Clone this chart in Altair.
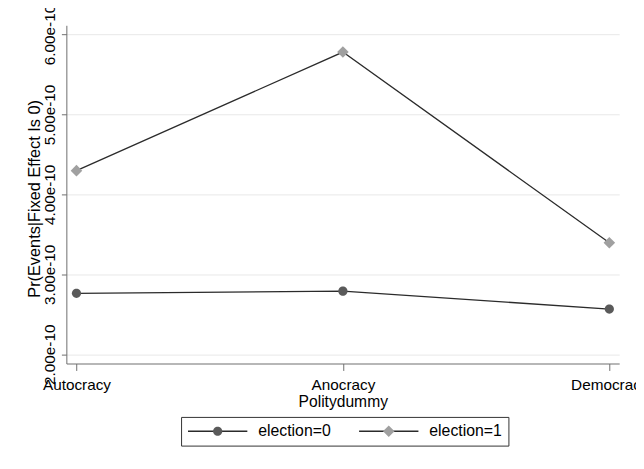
import altair as alt
import pandas as pd

# ---- data ----
categories = ["Autocracy", "Anocracy", "Democracy"]
series_names = ["election=0", "election=1"]
election0 = [2.763e-10, 2.790e-10, 2.566e-10]
election1 = [4.297e-10, 5.780e-10, 3.396e-10]
y_ticks = [2e-10, 3e-10, 4e-10, 5e-10, 6e-10]

rows = []
for i, c in enumerate(categories):
    rows.append({"xi": i, "cat": c, "value": election0[i], "series": series_names[0], "lseries": series_names[0]})
    rows.append({"xi": i, "cat": c, "value": election1[i], "series": series_names[1], "lseries": series_names[1]})
df = pd.DataFrame(rows)

FONT = "Liberation Sans"
circle_path = "M -0.155 0 A 0.155 0.155 0 1 0 0.155 0 A 0.155 0.155 0 1 0 -0.155 0 Z"
diamond_path = "M 0 -0.195 L 0.195 0 L 0 0.195 L -0.195 0 Z"

label_expr = "[" + ",".join("'" + c + "'" for c in categories) + "][datum.value]"

x_enc = alt.X(
    "xi:Q",
    scale=alt.Scale(domain=[-0.038, 2.037], nice=False, zero=False),
    axis=alt.Axis(
        values=[0, 1, 2], labelExpr=label_expr, title="Politydummy",
        grid=False, tickSize=7, tickColor="#6e6e6e", domainColor="#6e6e6e",
        labelFlush=False, labelOverlap=False, labelBaseline="alphabetic",
        labelPadding=19, labelFontSize=15.5, labelFont=FONT, labelColor="black",
        titleFontSize=15.8, titleFont=FONT, titleFontWeight="normal", titleColor="black",
        titleX=279.5, titleY=43, titleBaseline="alphabetic", titleAlign="center",
    ),
)
y_enc = alt.Y(
    "value:Q",
    scale=alt.Scale(domain=[1.885e-10, 6.115e-10], nice=False, zero=False),
    axis=alt.Axis(
        values=y_ticks, format=".2e", title="Pr(Events|Fixed Effect Is 0)",
        grid=True, gridColor="#e8e8e8", gridWidth=1,
        tickSize=5, tickColor="#6e6e6e", domainColor="#6e6e6e",
        labelAngle=270, labelAlign="center", labelBaseline="alphabetic",
        labelPadding=7, labelFlush=False, labelOverlap=False,
        labelFontSize=15.5, labelFont=FONT, labelColor="black",
        titleFontSize=16.5, titleFont=FONT, titleFontWeight="normal", titleColor="black",
        titleAngle=270, titleX=-27, titleY=175, titleBaseline="alphabetic", titleAlign="center",
    ),
)

common_legend = dict(
    title=None, orient="none", legendX=116, legendY=396, direction="horizontal",
    symbolSize=3600, clipHeight=17, padding=6, labelOffset=10, columnPadding=27,
    labelFontSize=16, labelFont=FONT, labelColor="black", labelLimit=0,
)

lines = alt.Chart(df).mark_line(strokeWidth=1.3).encode(
    x=x_enc, y=y_enc,
    stroke=alt.Stroke(
        "lseries:N",
        scale=alt.Scale(domain=series_names, range=["#2b2b2b", "#2b2b2b"]),
        legend=alt.Legend(symbolType="stroke", symbolStrokeWidth=1.3,
                          strokeColor="#333333", **common_legend),
    ),
)

legend_b = alt.Legend(labelOpacity=0, symbolStrokeWidth=1.3,
                      symbolStrokeColor="transparent", **common_legend)
points = alt.Chart(df).mark_point(filled=True, size=3600, opacity=1).encode(
    x=x_enc, y=y_enc,
    fill=alt.Fill("series:N", scale=alt.Scale(range=["#5a5a5a", "#a0a0a0"]), legend=legend_b),
    shape=alt.Shape("series:N", scale=alt.Scale(range=[circle_path, diamond_path]), legend=legend_b),
)

chart = (
    alt.layer(lines, points)
    .properties(
        width=559, height=342,
        autosize=alt.AutoSizeParams(type="none"),
        padding={"left": 59, "top": 15, "right": 17, "bottom": 88},
        background="white",
    )
    .configure_view(stroke=None)
)

chart.save("out.html", embed_options={"renderer": "svg", "actions": False})
